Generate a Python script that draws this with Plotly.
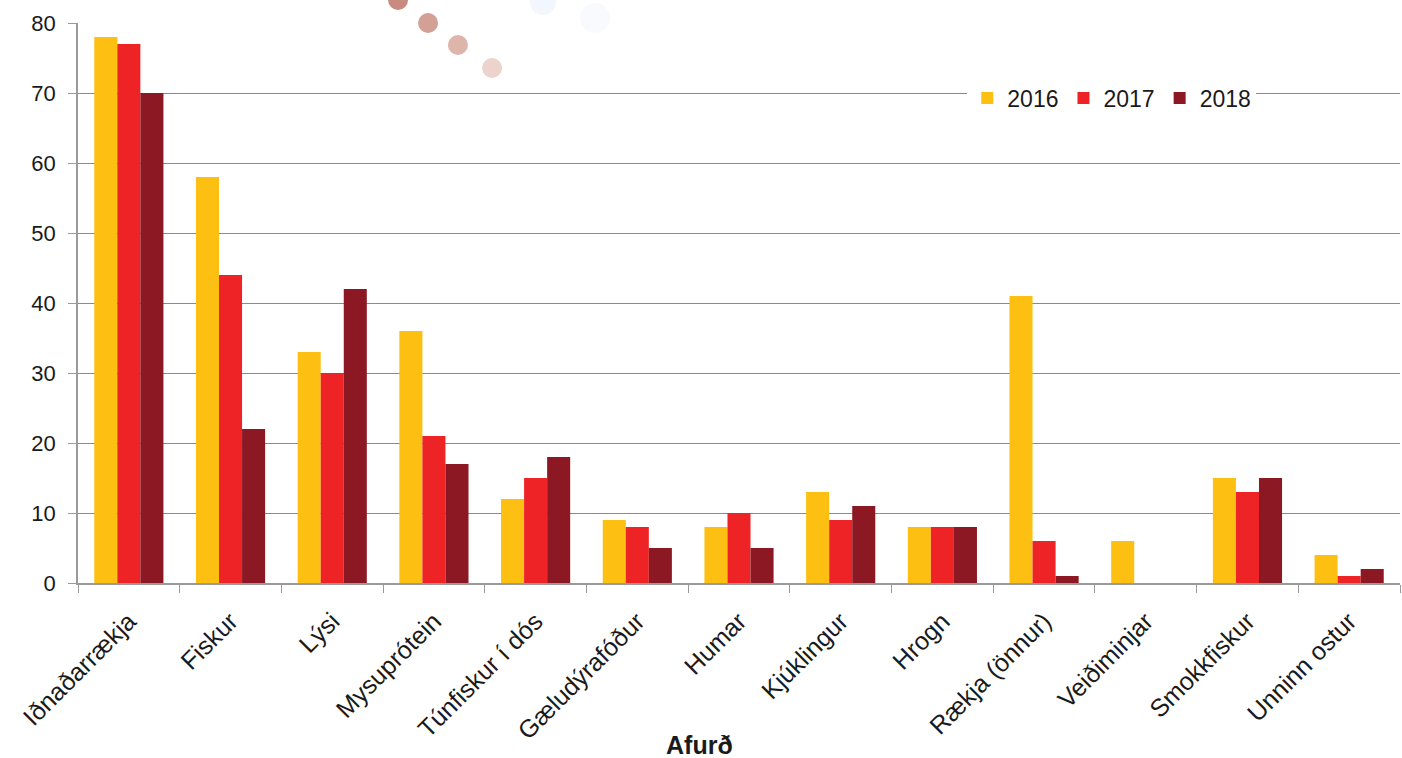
import plotly.graph_objects as go

categories = ["Iðnaðarrækja", "Fiskur", "Lýsi", "Mysuprótein", "Túnfiskur í dós",
              "Gæludýrafóður", "Humar", "Kjúklingur", "Hrogn", "Rækja (önnur)",
              "Veiðiminjar", "Smokkfiskur", "Unninn ostur"]
v2016 = [78, 58, 33, 36, 12, 9, 8, 13, 8, 41, 6, 15, 4]
v2017 = [77, 44, 30, 21, 15, 8, 10, 9, 8, 6, 0, 13, 1]
v2018 = [70, 22, 42, 17, 18, 5, 5, 11, 8, 1, 0, 15, 2]
series_names = ["2016", "2017", "2018"]
colors = ["#FCBF12", "#EE2326", "#8B1822"]
y_ticks = [0, 10, 20, 30, 40, 50, 60, 70, 80]

FONT = "Liberation Sans, Arial, sans-serif"

# faint decorative watermark dots (background decoration from the source image)
deco_x = [0.2421, 0.2648, 0.2874, 0.3132, 0.3517, 0.3911]
deco_y = [1.0411, 1.0000, 0.9607, 0.9196, 1.0375, 1.0089]
deco_r = [10, 10, 10, 10, 13, 15]
deco_c = ["#c98a80", "#d3a095", "#ddb5ab", "#ecd3cb", "#f1f7fc", "#f8fafd"]

fig = go.Figure()
for name, vals, col in zip(series_names, [v2016, v2017, v2018], colors):
    fig.add_trace(go.Bar(x=categories, y=vals, name=name,
                         marker=dict(color=col, line=dict(width=0))))

shapes = []
for dx, dy, dr, dc in zip(deco_x, deco_y, deco_r, deco_c):
    shapes.append(dict(type="circle", xref="paper", yref="paper",
                       xsizemode="pixel", ysizemode="pixel",
                       xanchor=dx, yanchor=dy, x0=-dr, x1=dr, y0=-dr, y1=dr,
                       fillcolor=dc, line=dict(width=0), layer="below"))

fig.update_layout(
    width=1402, height=758,
    margin=dict(l=78, r=2, t=23, b=175, autoexpand=False),
    paper_bgcolor="white", plot_bgcolor="rgba(0,0,0,0)",
    font=dict(family=FONT, size=22, color="#1a1a1a"),
    barmode="group", bargap=0.32, bargroupgap=0,
    showlegend=True,
    legend=dict(orientation="h", x=0.782, xanchor="center", y=0.866, yanchor="middle",
                bgcolor="white", font=dict(size=23), itemwidth=30,
                traceorder="normal"),
    xaxis=dict(tickangle=-45, showgrid=False, showline=True, linecolor="#9a9a9a",
               linewidth=1.5, ticks="outside", tickson="boundaries", ticklen=8,
               tickcolor="#9a9a9a", tickfont=dict(size=25), ticklabelstandoff=12),
    yaxis=dict(range=[0, 80], tickvals=y_ticks, showgrid=True, gridcolor="#8a8a8a",
               gridwidth=1.3, showline=True, linecolor="#9a9a9a", linewidth=1.5,
               ticks="outside", ticklen=8, tickcolor="#9a9a9a",
               tickfont=dict(size=22), zeroline=False, ticklabelstandoff=8),
    shapes=shapes,
    annotations=[dict(text="<b>Afurð</b>", x=0.47, y=-0.289, xref="paper", yref="paper",
                      showarrow=False, font=dict(size=25, color="#1a1a1a"),
                      xanchor="center", yanchor="middle")],
)

fig.write_html("out.html", config={"displayModeBar": False},
               post_script="document.body.style.margin='0';document.body.style.overflow='hidden';")
